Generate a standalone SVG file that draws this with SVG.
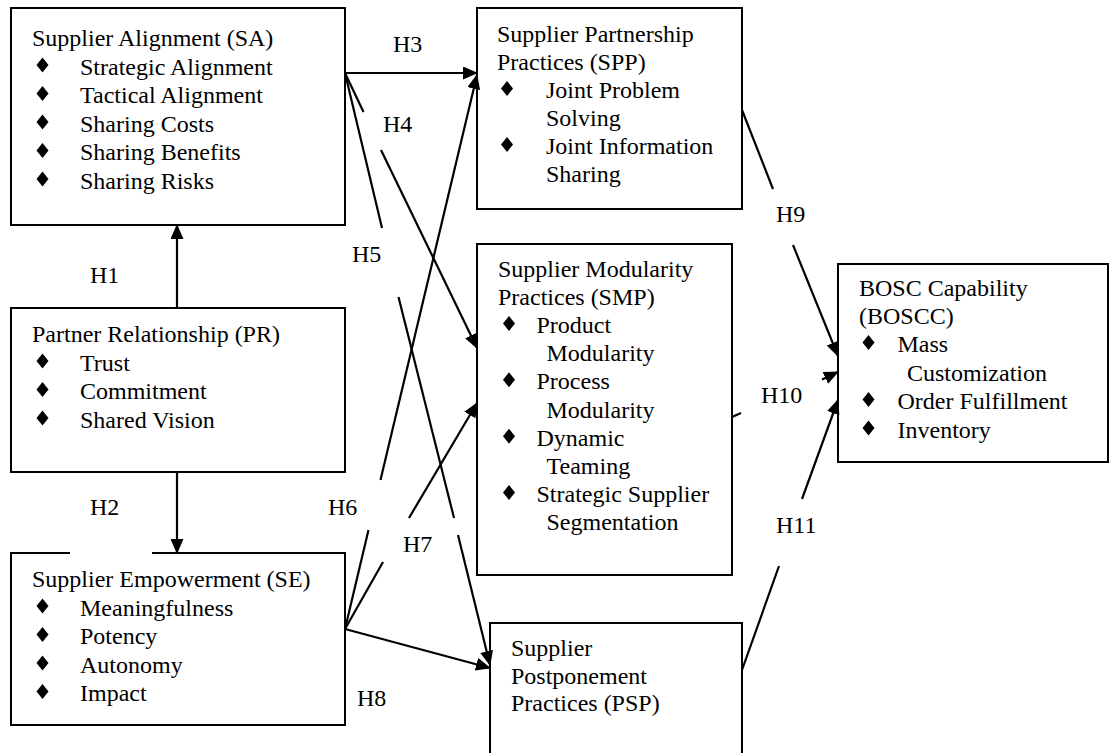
<svg xmlns="http://www.w3.org/2000/svg" width="1113" height="753" viewBox="0 0 1113 753">
  <style>
    .box { fill: #fff; stroke: #000; stroke-width: 2; }
    .t { font-family: "Liberation Serif", "Times New Roman", serif; font-size: 24px; fill: #000; }
    .lbl { font-family: "Liberation Serif", "Times New Roman", serif; font-size: 24px; fill: #000; }
    .edge { stroke: #000; stroke-width: 2.2; fill: none; }
    .bul { fill: #000; }
  </style>
  <defs>
    <marker id="arrow" markerUnits="userSpaceOnUse" markerWidth="16" markerHeight="14" refX="14" refY="6.5" orient="auto">
      <path d="M0,0 L15,6.5 L0,13 z" fill="#000"/>
    </marker>
    <path id="dia" d="M0,-7.5 L6,0 L0,7.5 L-6,0 z"/>
  </defs>
  <rect width="1113" height="753" fill="#fff"/>

  <!-- Supplier Alignment -->
  <g id="sa">
    <rect class="box" x="11" y="8" width="334" height="217"/>
    <text class="t" x="32" y="46">Supplier Alignment (SA)</text>
    <use href="#dia" class="bul" x="42.5" y="65"/>
    <text class="t" x="80" y="74.5">Strategic Alignment</text>
    <use href="#dia" class="bul" x="42.5" y="93.5"/>
    <text class="t" x="80" y="103">Tactical Alignment</text>
    <use href="#dia" class="bul" x="42.5" y="122"/>
    <text class="t" x="80" y="131.5">Sharing Costs</text>
    <use href="#dia" class="bul" x="42.5" y="150.5"/>
    <text class="t" x="80" y="160">Sharing Benefits</text>
    <use href="#dia" class="bul" x="42.5" y="179"/>
    <text class="t" x="80" y="188.5">Sharing Risks</text>
  </g>

  <!-- Partner Relationship -->
  <g id="pr">
    <rect class="box" x="11" y="308" width="334" height="164"/>
    <text class="t" x="32" y="342">Partner Relationship (PR)</text>
    <use href="#dia" class="bul" x="42.5" y="361"/>
    <text class="t" x="80" y="370.5">Trust</text>
    <use href="#dia" class="bul" x="42.5" y="389.5"/>
    <text class="t" x="80" y="399">Commitment</text>
    <use href="#dia" class="bul" x="42.5" y="418"/>
    <text class="t" x="80" y="427.5">Shared Vision</text>
  </g>

  <!-- Supplier Empowerment -->
  <g id="se">
    <rect class="box" x="11" y="553" width="334" height="172"/>
    <rect x="70" y="550" width="82" height="6" fill="#fff"/>
    <text class="t" x="32" y="587">Supplier Empowerment (SE)</text>
    <use href="#dia" class="bul" x="42.5" y="606"/>
    <text class="t" x="80" y="615.5">Meaningfulness</text>
    <use href="#dia" class="bul" x="42.5" y="634.5"/>
    <text class="t" x="80" y="644">Potency</text>
    <use href="#dia" class="bul" x="42.5" y="663"/>
    <text class="t" x="80" y="672.5">Autonomy</text>
    <use href="#dia" class="bul" x="42.5" y="691.5"/>
    <text class="t" x="80" y="701">Impact</text>
  </g>

  <!-- Supplier Partnership Practices -->
  <g id="spp">
    <rect class="box" x="477" y="8" width="265" height="201"/>
    <text class="t" x="497" y="42">Supplier Partnership</text>
    <text class="t" x="497" y="70">Practices (SPP)</text>
    <use href="#dia" class="bul" x="507" y="88.5"/>
    <text class="t" x="546" y="98">Joint Problem</text>
    <text class="t" x="546" y="126">Solving</text>
    <use href="#dia" class="bul" x="507" y="144.5"/>
    <text class="t" x="546" y="154">Joint Information</text>
    <text class="t" x="546" y="182">Sharing</text>
  </g>

  <!-- Supplier Modularity Practices -->
  <g id="smp">
    <rect class="box" x="477" y="244" width="255" height="331"/>
    <text class="t" x="498" y="276.5">Supplier Modularity</text>
    <text class="t" x="498" y="304.7">Practices (SMP)</text>
    <use href="#dia" class="bul" x="509" y="323.4"/>
    <text class="t" x="536.5" y="332.9">Product</text>
    <text class="t" x="546.5" y="361.1">Modularity</text>
    <use href="#dia" class="bul" x="509" y="379.8"/>
    <text class="t" x="536.5" y="389.3">Process</text>
    <text class="t" x="546.5" y="417.5">Modularity</text>
    <use href="#dia" class="bul" x="509" y="436.2"/>
    <text class="t" x="536.5" y="445.7">Dynamic</text>
    <text class="t" x="546.5" y="473.9">Teaming</text>
    <use href="#dia" class="bul" x="509" y="492.6"/>
    <text class="t" x="536.5" y="502.1">Strategic Supplier</text>
    <text class="t" x="546.5" y="530.3">Segmentation</text>
  </g>

  <!-- Supplier Postponement Practices -->
  <g id="psp">
    <rect class="box" x="490" y="623" width="252" height="140"/>
    <text class="t" x="511" y="655.5">Supplier</text>
    <text class="t" x="511" y="683.5">Postponement</text>
    <text class="t" x="511" y="711">Practices (PSP)</text>
  </g>

  <!-- BOSC Capability -->
  <g id="boscc">
    <rect class="box" x="838" y="264" width="270" height="198"/>
    <text class="t" x="859" y="295.5">BOSC Capability</text>
    <text class="t" x="859" y="323.5">(BOSCC)</text>
    <use href="#dia" class="bul" x="868.5" y="342.5"/>
    <text class="t" x="897.5" y="352">Mass</text>
    <text class="t" x="907" y="380.5">Customization</text>
    <use href="#dia" class="bul" x="868.5" y="399.5"/>
    <text class="t" x="897.5" y="409">Order Fulfillment</text>
    <use href="#dia" class="bul" x="868.5" y="428"/>
    <text class="t" x="897.5" y="437.5">Inventory</text>
  </g>

  <!-- hypothesis paths -->
  <g id="connectors">
    <!-- H1 -->
    <line class="edge" x1="177" y1="308" x2="177" y2="225" marker-end="url(#arrow)"/>
    <!-- H2 -->
    <line class="edge" x1="177" y1="472" x2="177" y2="553" marker-end="url(#arrow)"/>
    <!-- H3 -->
    <line class="edge" x1="344" y1="73" x2="477" y2="73" marker-end="url(#arrow)"/>
    <!-- H4 -->
    <line class="edge" x1="345" y1="73" x2="363.5" y2="112"/>
    <line class="edge" x1="381" y1="150" x2="477" y2="348" marker-end="url(#arrow)"/>
    <!-- H5 -->
    <line class="edge" x1="345" y1="73" x2="382" y2="228"/>
    <line class="edge" x1="398.5" y1="297" x2="454" y2="518"/>
    <line class="edge" x1="458" y1="535" x2="490" y2="665" marker-end="url(#arrow)"/>
    <!-- H6 -->
    <line class="edge" x1="345" y1="629" x2="368.5" y2="530"/>
    <line class="edge" x1="380.5" y1="480" x2="477" y2="75" marker-end="url(#arrow)"/>
    <!-- H7 -->
    <line class="edge" x1="345" y1="629" x2="383" y2="562"/>
    <line class="edge" x1="409" y1="518" x2="477" y2="403" marker-end="url(#arrow)"/>
    <!-- H8 -->
    <line class="edge" x1="345" y1="629" x2="490" y2="668" marker-end="url(#arrow)"/>
    <!-- H9 -->
    <line class="edge" x1="742" y1="110" x2="773" y2="189"/>
    <line class="edge" x1="793" y1="245" x2="838" y2="356" marker-end="url(#arrow)"/>
    <!-- H10 -->
    <line class="edge" x1="732" y1="417" x2="741" y2="413"/>
    <line class="edge" x1="822" y1="379.5" x2="838" y2="372" marker-end="url(#arrow)"/>
    <!-- H11 -->
    <line class="edge" x1="742" y1="670" x2="779" y2="566"/>
    <line class="edge" x1="802" y1="499" x2="838" y2="400" marker-end="url(#arrow)"/>
  </g>

  <!-- hypothesis labels -->
  <g id="labels">
    <text class="lbl" x="90" y="283">H1</text>
    <text class="lbl" x="90" y="515">H2</text>
    <text class="lbl" x="393" y="52">H3</text>
    <text class="lbl" x="383" y="132">H4</text>
    <text class="lbl" x="352" y="262">H5</text>
    <text class="lbl" x="328" y="515">H6</text>
    <text class="lbl" x="403" y="552">H7</text>
    <text class="lbl" x="357" y="706">H8</text>
    <text class="lbl" x="776" y="222">H9</text>
    <text class="lbl" x="761" y="403">H10</text>
    <text class="lbl" x="776" y="533">H11</text>
  </g>
</svg>
